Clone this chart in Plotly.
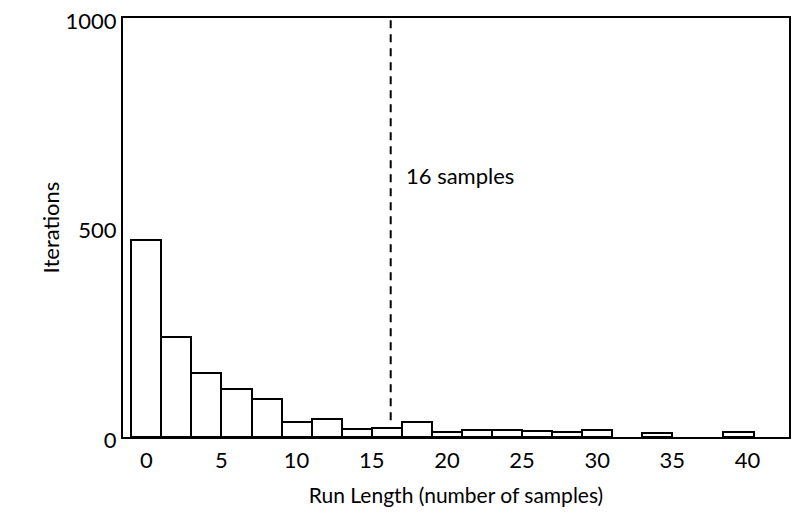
import plotly.graph_objects as go

# Histogram of run lengths (bin centers, width 2 samples)
bin_centers = [0, 2, 4, 6, 8, 10, 12, 14, 16, 18, 20, 22, 24, 26, 28, 30, 34, 39.4]
iterations = [469, 239, 152, 115, 90, 36, 43, 19, 22, 35, 11, 17, 16, 15, 11, 17, 9, 11]
bin_width = 2

marker_x = 16.26
marker_label = "16 samples"

x_ticks = [0, 5, 10, 15, 20, 25, 30, 35, 40]
y_ticks = [0, 500, 1000]

FONT = "Lato, Open Sans, sans-serif"

fig = go.Figure()
fig.add_trace(go.Bar(
    x=bin_centers, y=iterations, width=[bin_width] * len(bin_centers),
    marker=dict(color="white", line=dict(color="black", width=2)),
    showlegend=False,
))
fig.add_shape(type="line", x0=marker_x, x1=marker_x, y0=40, y1=1000,
              xref="x", yref="y", line=dict(color="black", width=2, dash="8px,6px"))
fig.add_annotation(x=marker_x, y=625, xref="x", yref="y", text=marker_label,
                   showarrow=False, xanchor="left", xshift=13,
                   font=dict(family=FONT, size=22, color="black"))

fig.update_layout(
    width=784, height=500,
    margin=dict(l=115, r=3, t=10, b=71),
    plot_bgcolor="white", paper_bgcolor="white",
    font=dict(family=FONT, size=22, color="black"),
    bargap=0,
)
fig.update_xaxes(range=[-1.55, 42.76], tickvals=x_ticks, showgrid=False, zeroline=False,
                 showline=True, linecolor="black", linewidth=2, mirror=True,
                 ticks="", ticklen=0, automargin=False, ticklabelstandoff=3,
                 ticklabeloverflow="allow",
                 title=dict(text="Run Length (number of samples)", standoff=16,
                            font=dict(family=FONT, size=21, color="black")))
fig.update_yaxes(range=[0, 1000], tickvals=y_ticks, showgrid=False, zeroline=False,
                 showline=True, linecolor="black", linewidth=2, mirror=True,
                 ticks="", ticklen=0, automargin=False, ticklabeloverflow="allow",
                 ticklabelshift=3,
                 title=dict(text="Iterations", standoff=0,
                            font=dict(family=FONT, size=22, color="black")))

fig.write_html("out.html")
